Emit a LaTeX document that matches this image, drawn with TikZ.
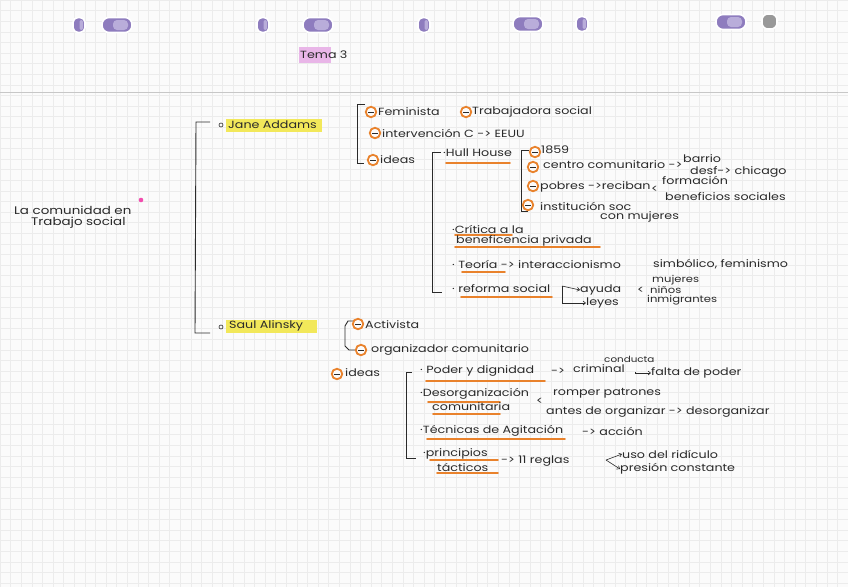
\documentclass[tikz,border=0pt]{standalone}
\usepackage{fontspec}
\setmainfont{Poppins}[FakeStretch=1.22]
\usetikzlibrary{arrows.meta}
\definecolor{ink}{HTML}{2A2A2A}
\definecolor{orng}{HTML}{E9822C}
\definecolor{hyel}{HTML}{F2E85A}
\definecolor{hpink}{HTML}{E9B6E8}
\definecolor{holec}{HTML}{8E7CBE}
\definecolor{holel}{HTML}{B9ADDA}
\definecolor{gridc}{HTML}{ECECEC}
\definecolor{paper}{HTML}{FBFBFB}
\tikzset{
  txt/.style={anchor=west, inner sep=0pt, text=ink, font=\fontsize{10.4}{12}\selectfont},
  small/.style={txt, font=\fontsize{8.5}{9}\selectfont},
  tight/.style={txt, font=\fontsize{9.5}{10}\selectfont},
  obul/.style={circle, draw=orng, line width=1.8pt, minimum size=10.5pt, inner sep=0pt, fill=paper,
    path picture={\draw[ink,line width=0.6pt] ([xshift=-2.6pt]path picture bounding box.center) -- ([xshift=2.6pt]path picture bounding box.center);}},
  wbul/.style={circle, draw=ink, line width=0.6pt, minimum size=4pt, inner sep=0pt},
  brk/.style={draw=ink, line width=0.9pt},
  uline/.style={draw=orng, line width=1.7pt, line cap=round},
  harrow/.style={draw=ink, line width=0.6pt, -{Straight Barb[length=2.5pt,width=4pt]}},
  holeshape/.style={fill=holec, draw=white, line width=1.6pt},
}
\begin{document}
\begin{tikzpicture}[x=1pt,y=-1pt]
\useasboundingbox (0,0) rectangle (848,587);
\fill[paper] (0,0) rectangle (848,587);
% grid
\foreach \i in {0,...,80} {\draw[gridc, line width=0.4pt] (\i*10.6,0) -- (\i*10.6,587);}
\foreach \j in {0,...,56} {\draw[gridc, line width=0.4pt] (0,\j*10.6) -- (848,\j*10.6);}
\draw[black!22, line width=0.5pt] (0,92) -- (848,92);
% punched holes
\foreach \x/\y in {79/25, 263/25, 424/25, 582/24} {
  \filldraw[holeshape, rounded corners=5pt] (\x-6,\y-7.5) rectangle (\x+6,\y+7.5);
  \fill[holel, rounded corners=2pt] (\x+0.5,\y-5) rectangle (\x+4,\y+5);}
\filldraw[holeshape, fill=black!40, rounded corners=6pt] (762,14) rectangle (777,29);
\foreach \x/\y in {117/25, 318/25, 528/24, 731/22} {
  \filldraw[holeshape, rounded corners=7pt] (\x-15,\y-7.5) rectangle (\x+15,\y+7.5);
  \fill[holel, rounded corners=4pt] (\x-4,\y-5) rectangle (\x+11,\y+5);}
% title
\fill[hpink] (299,47) rectangle (331,63);
\node[txt] (tema) at (300,55) {Tema 3};
% main topic
\node[txt, font=\fontsize{11}{12}\selectfont] (main1) at (14,210) {La comunidad en};
\node[txt, font=\fontsize{11}{12}\selectfont] (main2) at (31,223) {Trabajo social};
\fill[magenta!70] (141,200) circle (2.3);
% big bracket
\coordinate (bA) at (210,122); \coordinate (bB) at (210,333);
\draw[brk] (bA) -- (196,122) -- (195,333) -- (bB);
% Jane Addams
\fill[hyel] (226,119) rectangle (322,132);
\node[wbul] (jb) at (221,125) {};
\node[txt] (jane) at (228,125) {Jane Addams};
% Jane bracket
\draw[brk] (365,104) -- (357,104) -- (357,163) -- (364,163);
\node[obul] (o1) at (371,112) {};
\node[txt] (fem) at (378,112) {Feminista};
\node[obul] (o2) at (466,112) {};
\node[txt] (trab) at (472,112) {Trabajadora social};
\node[obul] (o3) at (375,133) {};
\node[txt] (interv) at (382,133) {intervención C -> EEUU};
\node[obul] (o4) at (373,160) {};
\node[txt] (ideas1) at (380,160) {ideas};
% ideas bracket
\draw[brk] (441,152) -- (432,152) -- (432,292) -- (442,292);
\node[txt] (hull) at (443,153) {·Hull House};
\draw[uline] (446,163) -- (510,163);
% Hull House bracket
\draw[brk] (529,150) -- (521,150) -- (521,211) -- (528,211);
\node[obul] (h1) at (535,152) {};
\node[txt] (y1859) at (541,150) {1859};
\node[obul] (h2) at (533,167) {};
\node[txt] (centro) at (543,165) {centro comunitario ->};
\node[txt] (barrio) at (683,159) {barrio};
\node[txt] (desf) at (690,172) {desf-> chicago};
\node[obul] (h3) at (533,186) {};
\node[txt] (pobres) at (540,187) {pobres ->reciban};
\node[txt] (lt1) at (651,189) {<};
\node[txt] (form) at (662,180) {formación};
\node[txt] (benef) at (665,197) {beneficios sociales};
\node[obul] (h4) at (528,205) {};
\node[txt] (inst) at (540,206) {institución soc};
\node[txt] (conm) at (600,217) {con mujeres};
% critica
\node[txt] (crit1) at (452,229) {·Crítica a la};
\draw[uline] (455,235) -- (512,235);
\node[txt] (crit2) at (456,241) {beneficencia privada};
\draw[uline] (455,247) -- (600,247);
% teoria
\node[txt] (teo) at (452,264) {· Teoría -> interaccionismo};
\draw[uline] (462,272) -- (505,272);
\node[txt] (simb) at (653,264) {simbólico, feminismo};
% reforma
\node[txt] (ref) at (452,289) {· reforma social};
\draw[uline] (461,297) -- (552,297);
\coordinate (rs) at (562,286);
\node[txt] (ayuda) at (580,290) {ayuda};
\node[txt] (leyes) at (586,303) {leyes};
\draw[harrow] (rs) -- (ayuda.west);
\draw[harrow] (rs) |- (leyes.west);
\node[txt] (lt2) at (637,290) {<};
\node[tight] (muj) at (652,280) {mujeres};
\node[tight] (nin) at (650,290) {niños};
\node[tight] (inm) at (647,300) {inmigrantes};
% Saul Alinsky
\fill[hyel] (226,320) rectangle (317,333);
\node[wbul] (sb) at (221,327) {};
\node[txt] (saul) at (229,326) {Saul Alinsky};
\draw[brk] (354,321) -- (348,321) -- (345,326) -- (345,346) -- (349,350) -- (355,350);
\node[obul] (s1) at (358,324) {};
\node[txt] (act) at (365,325) {Activista};
\node[obul] (s2) at (361,350) {};
\node[txt] (org) at (371,350) {organizador comunitario};
\node[obul] (s3) at (337,374) {};
\node[txt] (ideas2) at (345,373) {ideas};
% ideas 2 bracket
\draw[brk] (412,372) -- (406,372) -- (406,458) -- (416,458);
\node[txt] (poder) at (420,371) {· Poder y dignidad};
\draw[uline] (426,381) -- (545,381);
\node[txt] (arr1) at (551,371) {->};
\node[small] (cond) at (604,359) {conducta};
\node[txt] (crim) at (573,369) {criminal};
\coordinate (ch) at (635,372);
\node[txt] (falta) at (651,373) {falta de poder};
\draw[harrow] (ch) |- (falta.west);
\node[txt] (deso1) at (420,394) {·Desorganización};
\draw[uline] (428,402) -- (500,402);
\node[txt] (deso2) at (432,407) {comunitaria};
\draw[uline] (433,414) -- (500,414);
\node[txt] (lt3) at (536,401) {<};
\node[txt] (romp) at (553,393) {romper patrones};
\node[txt] (antes) at (546,412) {antes de organizar -> desorganizar};
\node[txt] (tec) at (420,431) {·Técnicas de Agitación};
\draw[uline] (427,439) -- (565,439);
\node[txt] (acc) at (582,431) {-> acción};
\node[txt] (prin1) at (423,454) {·principios};
\draw[uline] (430,460) -- (498,460);
\node[txt] (prin2) at (437,467) {tácticos};
\draw[uline] (437,473) -- (498,473);
\node[txt] (regl) at (501,461) {-> 11 reglas};
\coordinate (rg) at (606,460);
\node[txt] (uso) at (622,454) {uso del ridículo};
\node[txt] (pres) at (620,469) {presión constante};
\draw[harrow] (rg) -- (uso.west);
\draw[harrow] (rg) -- (pres.west);
\end{tikzpicture}
\end{document}
